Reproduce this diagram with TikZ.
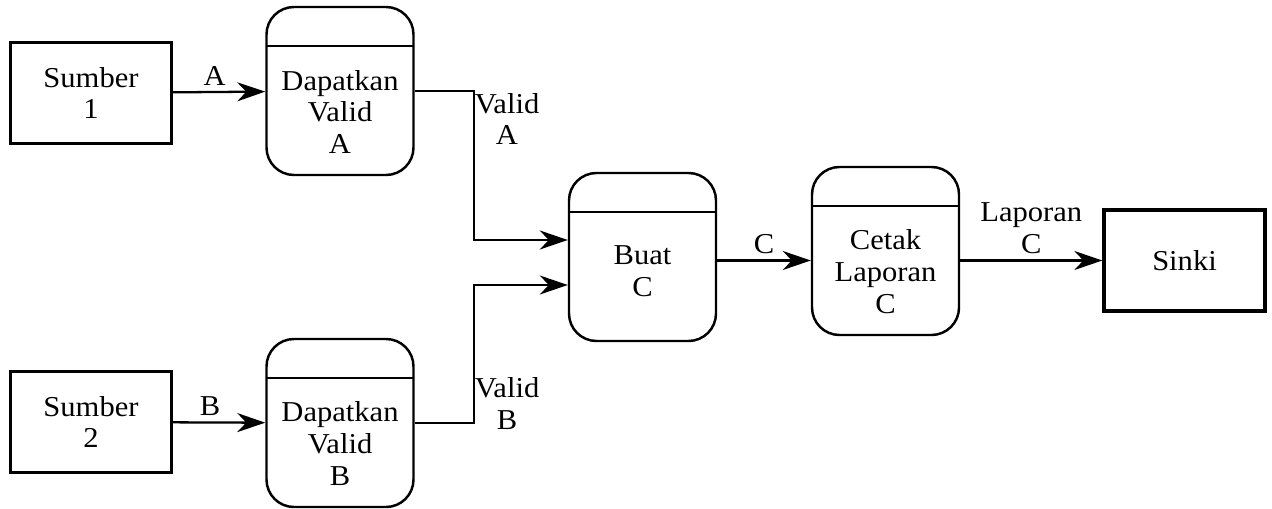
\documentclass[tikz,border=0pt]{standalone}
\usepackage{fontspec}
\setmainfont{Liberation Serif}[FakeStretch=1.06]
\usetikzlibrary{arrows.meta}

\begin{document}
\begin{tikzpicture}[
  font=\fontsize{16.4}{18.2}\selectfont,
  every node/.style={align=center, inner sep=1pt},
  terminal/.style={draw, line width=1.9pt, minimum width=3.22cm, minimum height=2.02cm},
  proc/.style={draw, line width=1.4pt, rounded corners=0.55cm, minimum width=2.94cm, minimum height=3.36cm,
    path picture={\draw[line width=1.4pt] ([yshift=-0.78cm]path picture bounding box.north west)
      -- ([yshift=-0.78cm]path picture bounding box.north east);}},
  flow/.style={line width=1.3pt, -{Stealth[length=0.56cm, width=0.38cm, inset=0.18cm]}}
]
\useasboundingbox (0,0) rectangle (25.44,10.16);

% sources and sink
\node[terminal] (src1) at (1.82,8.30) {Sumber\\1};
\node[terminal] (src2) at (1.82,1.72) {Sumber\\2};
\node[terminal] (sinki) at (23.69,4.95) {Sinki};

% processes
\node[proc] (validA) at (6.80,8.34) {};
\node[proc] (validB) at (6.80,1.70) {};
\node[proc] (buat) at (12.85,5.02) {};
\node[proc] (cetak) at (17.71,5.14) {};
\node (validAtxt) at ([yshift=-0.42cm]validA.center) {Dapatkan\\Valid\\A};
\node (validBtxt) at ([yshift=-0.42cm]validB.center) {Dapatkan\\Valid\\B};
\node (buattxt) at ([yshift=-0.28cm]buat.center) {Buat\\C};
\node (cetaktxt) at ([yshift=-0.42cm]cetak.center) {Cetak\\Laporan\\C};

% junction points in front of Buat C
\coordinate (jA) at (9.48,5.36);
\coordinate (jB) at (9.48,4.46);

\draw[flow] (src1) -- (validA) node[pos=0.45, above=2pt] (lblA) {A};
\draw[flow] (src2) -- (validB) node[pos=0.4, above=2pt] (lblB) {B};
\draw[flow] (validA.east) -| (jA) -- (jA -| buat.west);
\draw[flow] (validB.east) -| (jB) -- (jB -| buat.west);
\draw[flow] (buat.east |- sinki.west) -- (cetak.west |- sinki.west)
  node[midway, above=2pt] (lblC) {C};
\draw[flow] (cetak.east |- sinki.west) -- (sinki.west)
  node[midway, above=2pt] (lblLap) {Laporan\\C};

\node (lblValidA) at (10.14,7.78) {Valid\\A};
\node (lblValidB) at (10.14,2.09) {Valid\\B};
\end{tikzpicture}
\end{document}
